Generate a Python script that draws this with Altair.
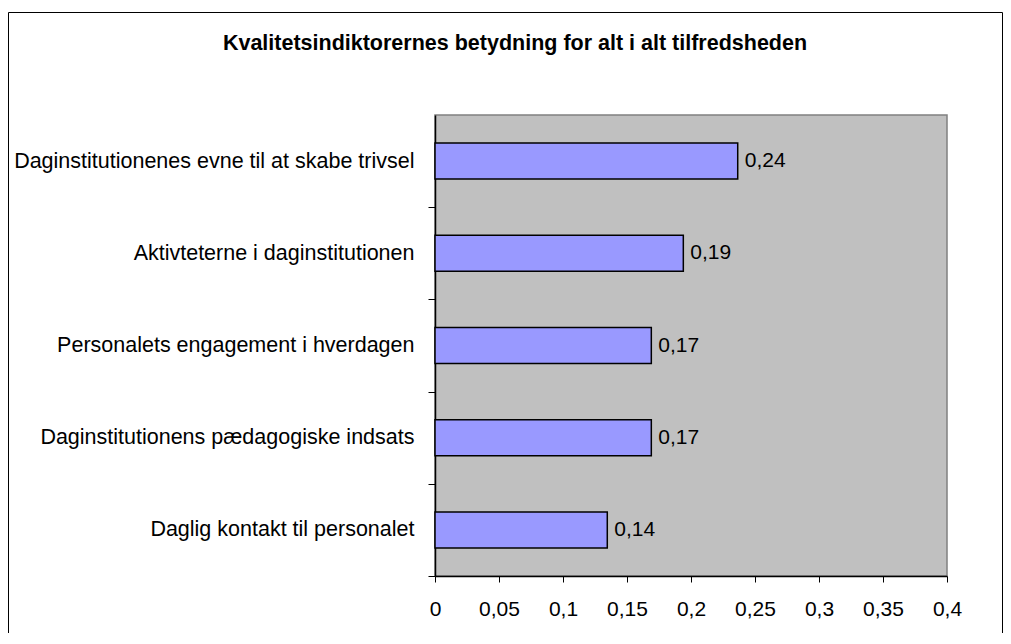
import altair as alt
import pandas as pd

categories = [
    "Daginstitutionenes evne til at skabe trivsel",
    "Aktivteterne i daginstitutionen",
    "Personalets engagement i hverdagen",
    "Daginstitutionens pædagogiske indsats",
    "Daglig kontakt til personalet",
]
values = [0.2365, 0.194, 0.169, 0.169, 0.1346]
value_labels = ["0,24", "0,19", "0,17", "0,17", "0,14"]
x_ticks = [0, 0.05, 0.1, 0.15, 0.2, 0.25, 0.3, 0.35, 0.4]
title_text = ["Kvalitetsindiktorernes betydning for alt i alt tilfredsheden"]

df = pd.DataFrame({"cat": categories, "val": values, "lab": value_labels})

FONT = "Liberation Sans"
W, H = 512, 461

x_enc = alt.X(
    "val:Q",
    scale=alt.Scale(domain=[0, 0.4], nice=False, zero=True),
    axis=alt.Axis(
        values=x_ticks,
        labelExpr="replace(format(datum.value, '~g'), '.', ',')",
        title=None,
        grid=False,
        domainColor="black",
        domainWidth=1.5,
        tickColor="black",
        tickSize=6,
        labelFont=FONT,
        labelFontSize=21,
        labelColor="black",
        labelPadding=16,
        labelFlush=False,
        labelOverlap=False,
    ),
)
y_enc = alt.Y(
    "cat:N",
    sort=categories,
    scale=alt.Scale(paddingInner=0.61, paddingOuter=0.305),
    axis=alt.Axis(
        title=None,
        grid=False,
        domainColor="black",
        domainWidth=1.5,
        tickColor="black",
        tickSize=7,
        tickOffset=46.1,
        labelOffset=-46.1,
        labelFont=FONT,
        labelFontSize=21.5,
        labelColor="black",
        labelPadding=14,
        labelLimit=1000,
    ),
)

bars = alt.Chart(df).mark_bar(
    fill="#9999FF", stroke="black", strokeWidth=1.5
).encode(x=x_enc, y=y_enc)

text = alt.Chart(df).mark_text(
    align="left", baseline="middle", dx=7, font=FONT, fontSize=21, color="black"
).encode(x="val:Q", y=alt.Y("cat:N", sort=categories), text="lab:N")

deco = pd.DataFrame({"t": title_text})

border = alt.Chart(deco).mark_rect(
    fill=None, stroke="black", strokeWidth=1, clip=False
).encode(
    x=alt.value(-426.5), x2=alt.value(567.5), y=alt.value(-102.5), y2=alt.value(600)
)

title = alt.Chart(deco).mark_text(
    font=FONT, fontSize=21.5, fontWeight="bold", color="black",
    align="center", baseline="alphabetic", clip=False,
).encode(x=alt.value(80), y=alt.value(-65.5), text="t:N")

chart = (
    alt.layer(border, title, bars, text)
    .properties(
        width=W,
        height=H,
        autosize=alt.AutoSizeParams(type="none"),
        padding={"left": 427, "top": 107, "right": 56, "bottom": 57},
    )
    .configure_view(fill="#C0C0C0", stroke="#808080", strokeWidth=1.5)
)

chart.save("out.html", embed_options={"renderer": "svg", "actions": False})
